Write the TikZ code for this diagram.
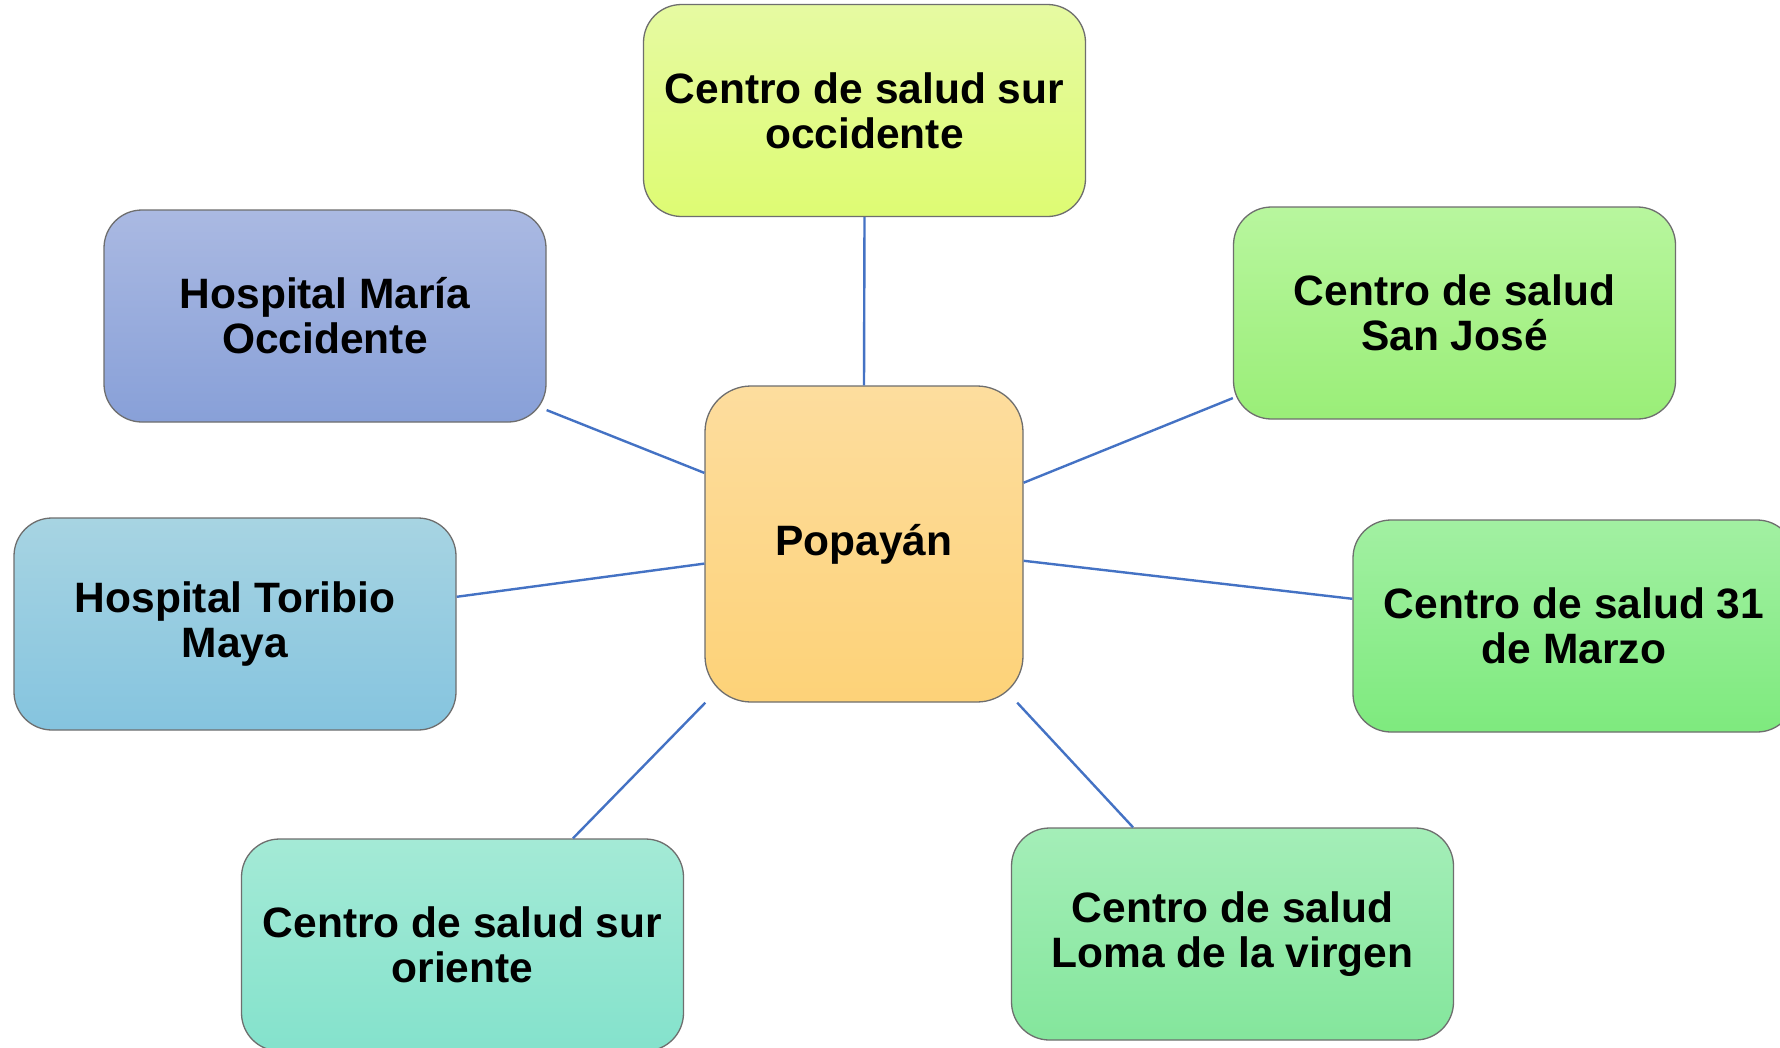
\documentclass[tikz,border=0pt]{standalone}
\usepackage{fontspec}
\setmainfont{Liberation Sans}
\begin{document}
\begin{tikzpicture}[x=1pt,y=-1pt,
  box/.style={rectangle, rounded corners=38pt, draw=boxline, line width=1.3pt,
    minimum width=442pt, minimum height=212pt, align=center, inner sep=0pt,
    font=\fontsize{42.5}{45}\selectfont\bfseries},
  link/.style={draw=linkblue, line width=2.4pt}]
\definecolor{boxline}{RGB}{110,110,110}
\definecolor{linkblue}{RGB}{68,114,196}
\useasboundingbox (0,0) rectangle (1780,1047);
\fill[white] (0,0) rectangle (1780,1047);
% nodes
\node[box, top color={rgb,255:red,230;green,250;blue,162}, bottom color={rgb,255:red,222;green,251;blue,115}] (top) at (864.5,110.5) {Centro de salud sur\\occidente};
\node[box, top color={rgb,255:red,170;green,185;blue,226}, bottom color={rgb,255:red,136;green,160;blue,216}] (maria) at (325,316) {Hospital María\\Occidente};
\node[box, top color={rgb,255:red,184;green,246;blue,158}, bottom color={rgb,255:red,154;green,238;blue,120}] (sanjose) at (1454.5,313) {Centro de salud\\San José};
\node[box, top color={rgb,255:red,167;green,212;blue,226}, bottom color={rgb,255:red,133;green,196;blue,223}] (toribio) at (235,624) {Hospital Toribio\\Maya};
\node[box, top color={rgb,255:red,162;green,240;blue,162}, bottom color={rgb,255:red,126;green,234;blue,126}] (marzo) at (1574,626) {Centro de salud 31\\de Marzo};
\node[box, top color={rgb,255:red,164;green,234;blue,214}, bottom color={rgb,255:red,132;green,226;blue,204}] (surori) at (462.5,945) {Centro de salud sur\\oriente};
\node[box, top color={rgb,255:red,164;green,238;blue,184}, bottom color={rgb,255:red,132;green,230;blue,156}] (loma) at (1232.5,934) {Centro de salud\\Loma de la virgen};
\node[box, rounded corners=46pt, minimum width=318pt, minimum height=316pt,
  top color={rgb,255:red,253;green,221;blue,158}, bottom color={rgb,255:red,253;green,210;blue,120}] (pop) at (864,544) {Popayán};
% connectors
\draw[link] (top.south) -- (pop.north);
\draw[link] (maria.-23.3) -- (pop.156.8);
\draw[link] (sanjose.201.4) -- (pop.21.6);
\draw[link] (toribio.7.7) -- (pop.187.2);
\draw[link] (marzo.173.3) -- (pop.-6.5);
\draw[link] (surori.44.9) -- (pop.225.2);
\draw[link] (loma.133.8) -- (pop.-46.7);
\end{tikzpicture}
\end{document}
